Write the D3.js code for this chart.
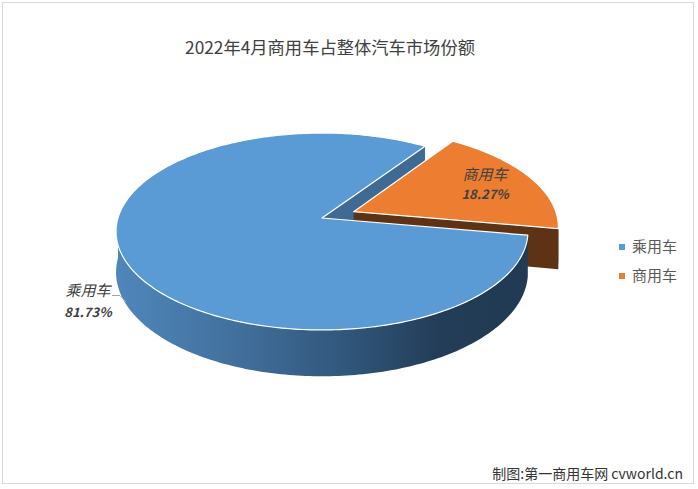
<!DOCTYPE html>
<html>
<head>
<meta charset="utf-8">
<script src="https://cdn.jsdelivr.net/npm/d3@7/dist/d3.min.js"></script>
<style>
  html, body { margin: 0; padding: 0; background: #fff; }
  svg { display: block; }
  text { font-family: "Microsoft YaHei", "Noto Sans CJK SC", "Noto Sans", sans-serif; }
</style>
</head>
<body>
<svg id="chart" width="698" height="489"></svg>
<script>
// ---- data ----
const title = "2022年4月商用车占整体汽车市场份额";
const categories = ["乘用车", "商用车"];
const shares = [81.73, 18.27];
const shareLabels = ["81.73%", "18.27%"];
const explode = [0, 0.17];
const footer = "制图:第一商用车网 cvworld.cn";

// ---- styles ----
const topColors = ["#5b9bd5", "#ed7d31"];
const sideColors = ["#3e6a94", "#5e3214"];
const W = 698, H = 489;
const cx = 322, cy = 218, rx = 204, ry = 96.6, depth = 40, persp = 0.137;
const rotation = 100 * Math.PI / 180;

const svg = d3.select("#chart");

// gradient for blue outer side
const defs = svg.append("defs");
const grad = defs.append("linearGradient").attr("id", "blueSide")
  .attr("gradientUnits", "userSpaceOnUse").attr("x1", 116).attr("x2", 529).attr("y1", 0).attr("y2", 0);
[[0, "#4f87bb"], [0.3, "#416f9c"], [0.55, "#31577c"], [0.78, "#233d58"], [1, "#223a53"]]
  .forEach(([o, c]) => grad.append("stop").attr("offset", o).attr("stop-color", c));

// border
svg.append("rect").attr("x", 2.5).attr("y", 2.5).attr("width", 691).attr("height", 481)
  .attr("fill", "#fff").attr("stroke", "#d9d9d9").attr("stroke-width", 1);

// scales for the projected disc
const xs = d3.scaleLinear().domain([-1, 1]).range([cx - rx, cx + rx]);
const ys = d3.scaleLinear().domain([-1, 1]).range([cy - ry, cy + ry]);

function project(u, v, drop) {
  const p = 1 / (1 - persp * v);
  return [cx + (xs(u) - cx) * p, cy + (ys(v) - cy) * p + depth * drop * p];
}
function pt(angle, r, off, drop) {
  return project(off[0] + r * Math.sin(angle), off[1] - r * Math.cos(angle), drop);
}
const line = d3.line();

const pie = d3.pie().sort(null).value(d => d)
  .startAngle(rotation).endAngle(rotation + 2 * Math.PI);
const arcs = pie(shares).map((a, i) => {
  const mid = (a.startAngle + a.endAngle) / 2;
  return Object.assign(a, {
    i, mid,
    off: [explode[i] * Math.sin(mid), -explode[i] * Math.cos(mid)]
  });
});

function sampleAngles(a0, a1) {
  const n = Math.max(2, Math.ceil((a1 - a0) / (Math.PI / 180)));
  return d3.range(n + 1).map(k => a0 + (a1 - a0) * k / n);
}
function topPath(a) {
  const pts = [project(a.off[0], a.off[1], 0)].concat(sampleAngles(a.startAngle, a.endAngle).map(t => pt(t, 1, a.off, 0)));
  return line(pts) + "Z";
}
function outerPath(a) {
  const segs = [];
  for (let k = -1; k <= 1; k++) {
    const lo = Math.max(a.startAngle, Math.PI / 2 + 2 * Math.PI * k);
    const hi = Math.min(a.endAngle, 3 * Math.PI / 2 + 2 * Math.PI * k);
    if (hi > lo) {
      const ang = sampleAngles(lo, hi);
      const pts = ang.map(t => pt(t, 1, a.off, 0)).concat(ang.slice().reverse().map(t => pt(t, 1, a.off, 1)));
      segs.push(line(pts) + "Z");
    }
  }
  return segs.join("");
}
function radialPath(a, angle) {
  const pts = [project(a.off[0], a.off[1], 0), pt(angle, 1, a.off, 0), pt(angle, 1, a.off, 1), project(a.off[0], a.off[1], 1)];
  return line(pts) + "Z";
}

const blue = arcs[0], orange = arcs[1];
const g = svg.append("g");

g.append("path").attr("d", radialPath(blue, blue.endAngle)).attr("fill", sideColors[0]);
g.append("path").attr("d", outerPath(orange)).attr("fill", sideColors[1]);
g.append("path").attr("d", radialPath(orange, orange.endAngle)).attr("fill", sideColors[1]);
g.append("path").attr("d", topPath(orange)).attr("fill", topColors[1])
  .attr("stroke", "#fff").attr("stroke-width", 1.2).attr("stroke-linejoin", "round");
g.append("path").attr("d", outerPath(blue)).attr("fill", "url(#blueSide)");
g.append("path").attr("d", topPath(blue)).attr("fill", topColors[0])
  .attr("stroke", "#fff").attr("stroke-width", 1.2).attr("stroke-linejoin", "round");

// title
svg.append("text").attr("x", 330).attr("y", 54).attr("text-anchor", "middle")
  .attr("font-size", 17.3).attr("fill", "#404040").text(title);

// data labels
const labelColor = "#404040";
const oPos = pt(orange.mid, 0.74, orange.off, 0);
svg.append("text").attr("x", oPos[0]).attr("y", oPos[1] - 5).attr("text-anchor", "middle")
  .attr("font-size", 15).attr("font-style", "italic").attr("fill", labelColor).text(categories[1]);
svg.append("text").attr("x", oPos[0]).attr("y", oPos[1] + 14).attr("text-anchor", "middle")
  .attr("font-size", 13).attr("font-style", "italic").attr("font-weight", "bold").attr("fill", labelColor).text(shareLabels[1]);

svg.append("path").attr("d", line([[112, 295.5], [120, 295.5], [126, 302]]))
  .attr("fill", "none").attr("stroke", "#a6a6a6").attr("stroke-width", 1);
svg.append("text").attr("x", 88).attr("y", 296).attr("text-anchor", "middle")
  .attr("font-size", 15).attr("font-style", "italic").attr("fill", labelColor).text(categories[0]);
svg.append("text").attr("x", 88).attr("y", 317).attr("text-anchor", "middle")
  .attr("font-size", 13).attr("font-style", "italic").attr("font-weight", "bold").attr("fill", labelColor).text(shareLabels[0]);

// legend
const legend = svg.append("g").selectAll("g").data(categories).join("g")
  .attr("transform", (d, i) => `translate(619, ${244 + i * 29})`);
legend.append("rect").attr("width", 6).attr("height", 6).attr("fill", (d, i) => topColors[i]);
legend.append("text").attr("x", 13).attr("y", 8).attr("font-size", 15).attr("fill", "#595959").text(d => d);

// footer
svg.append("text").attr("x", 683).attr("y", 479).attr("text-anchor", "end")
  .attr("font-size", 14).attr("fill", "#333").text(footer);
</script>
</body>
</html>
